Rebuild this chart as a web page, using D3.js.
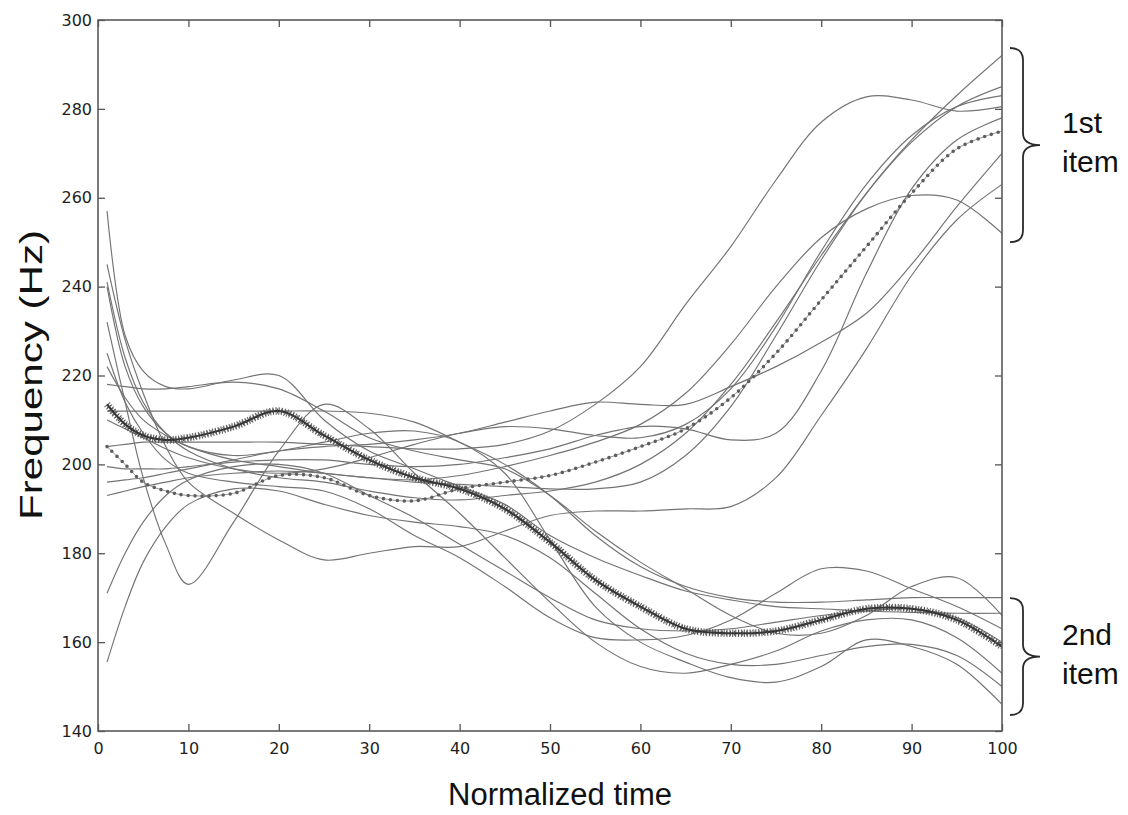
<!DOCTYPE html>
<html><head><meta charset="utf-8">
<script src="https://cdn.jsdelivr.net/npm/d3@7"></script>
<style>body{margin:0;background:#fff}</style>
</head><body>
<svg id="chart" width="1128" height="815"></svg>
<script>
// ---------- data ----------
const xs = [1,3,5,7.5,10,15,20,25,30,35,40,45,50,55,60,65,70,75,80,85,90,95,100];
const xTicks = [0,10,20,30,40,50,60,70,80,90,100];
const yTicks = [140,160,180,200,220,240,260,280,300];

// first item (rising contours)
const rise1 = [204,204.5,205,205,205,205,205,204.5,204,203.5,203.5,204.5,207.5,213.5,222,236,249,264,277,282.7,282,279.5,280.5];
const rise2 = [222,215,210,206.5,204,201,199.5,198,197,196,195.5,195,194.5,194.5,196,202,213,229,246,261,273,283,292];
const rise3 = [241,224,214,207,203,199,197,196,194,192.5,192,193,194,196,200,207,218,232,247,261,272.5,280.5,285];
const rise4 = [199.5,199,199,199,199.5,200.5,201,201,200,199.5,200,201.5,203.5,206.5,208.5,208,205.5,207,221,243,262,273,278];
const rise5 = [196,196.5,197,198,199,201,203,204,204.5,205.5,207,209.5,212,214,213.5,213.5,217.5,222,227.5,234,245,258,270];
const rise6 = [193,194,195,196,197,198,198.5,198,197,196.5,197.5,199.5,202,205,209,216,227,240,251,257.5,260.5,259.5,252];
const rise7 = [245,228,216,204,196,189,183,178.5,180,181.5,181.5,185,188.5,189.5,189.5,190,190.5,197,211,226,242.5,255,263];
const rise8 = [210,208,206,203.5,201.5,199,198,199,201.5,204.5,207,208.5,208,206.5,206,209,217,231,248,263,274,280.5,283];

// second item (falling contours)
const fall1 = [257,229,221,217.5,217,219,220,210,203,199,195,191,184,179,175,171.5,169.5,168,167.5,167,166.7,166.5,166.5];
const fall2 = [232,214,197,182,173,187,203,213.5,208,198,189,179,169,160,154.5,153,155,158,162.5,165,165,161,153];
const fall3 = [240,222,213,207,204,202,203,205,207,207.5,205,198,183,168,160,155.5,152,151,154.5,160.5,159,155,146];
const fall4 = [225,214,207,201,198,196,195,194,190,184,179,172.5,165.5,161,160.5,161.5,165,171,176.5,176,172,168,163];
const fall5 = [218,217.5,217,217,217.5,218.5,217,212,206,203,201,199,193,185,178,172,166,162,162,166,172.5,174.5,166];
const fall6 = [212,212,212,212,212,212,212,212,211.5,209.5,205,200,193,184,177,172.5,170,169,169,169.5,170,170,170];
const fall7 = [171,180,187,193,196.5,199.5,200,198,193,188,182,176,170,165,163,162.5,163,164.5,166,167,167.5,165.5,160];
const fall8 = [155.5,168,178,186,191,194.5,194,191,188.5,187,186,184,179,171,163,157.5,155,155,157,159,159.5,157,150];

// means
const firstItemMean  = [204,200,196,194,193,193.5,197.5,197,193,191.8,194.5,196,197.5,200.5,204,208,215,225,237,249,261,271,275];
const secondItemMean = [213.5,209,206.5,205.5,206,208.5,212,206.5,201,197,194.5,190,182.5,174,168,163,162,162.5,165,167.5,167.5,165,159];

const firstItemCurves  = [rise1,rise2,rise3,rise4,rise5,rise6,rise7,rise8];
const secondItemCurves = [fall1,fall2,fall3,fall4,fall5,fall6,fall7,fall8];

// annotation braces (data range on the y axis) and labels
const braceRanges = [[293.7,250],[169.9,143.6]];
const braceLabels = [["1st","item"],["2nd","item"]];

// ---------- drawing ----------
const svg = d3.select('#chart');
const x = d3.scaleLinear().domain([0,100]).range([98,1002]);
const y = d3.scaleLinear().domain([140,300]).range([731,20]);

svg.append('defs').append('clipPath').attr('id','plotclip')
  .append('rect').attr('x',98).attr('y',20).attr('width',904).attr('height',711);

const line = d3.line()
  .x((d,i)=>x(xs[i]))
  .y(d=>y(d))
  .curve(d3.curveCatmullRom.alpha(0.5));

const plot = svg.append('g').attr('clip-path','url(#plotclip)');

plot.selectAll('path.indiv')
  .data(firstItemCurves.concat(secondItemCurves))
  .join('path')
  .attr('class','indiv')
  .attr('d', line)
  .attr('fill','none')
  .attr('stroke','#737373')
  .attr('stroke-width',1.15);

// first item mean: dotted
plot.append('path').attr('d', line(firstItemMean))
  .attr('fill','none').attr('stroke','#8a8a8a').attr('stroke-width',0.9);
plot.append('path').attr('d', line(firstItemMean))
  .attr('fill','none').attr('stroke','#5e5e5e').attr('stroke-width',3.6)
  .attr('stroke-linecap','round').attr('stroke-dasharray','0 7');

// second item mean: star-marked band
plot.append('path').attr('d', line(secondItemMean))
  .attr('fill','none').attr('stroke','#5a5a5a').attr('stroke-width',7.5)
  .attr('stroke-dasharray','1.2 1.7').attr('opacity',0.9);
plot.append('path').attr('d', line(secondItemMean))
  .attr('fill','none').attr('stroke','#333').attr('stroke-width',2);
plot.append('path').attr('d', line(secondItemMean))
  .attr('fill','none').attr('stroke','#444').attr('stroke-width',5)
  .attr('stroke-dasharray','0.9 3.2').attr('stroke-dashoffset',1.5);

// axes
const tickFont = '"DejaVu Sans", Verdana, sans-serif';
function styleAxis(g){
  g.select('.domain').remove();
  g.selectAll('.tick line').attr('stroke','#555').attr('stroke-width',1.3);
  g.selectAll('.tick text').attr('fill','#1e1e1e').style('font-family',tickFont).style('font-size','16px');
}
svg.append('g').attr('transform','translate(98,0)')
  .call(d3.axisLeft(y).tickValues(yTicks).tickSize(-7).tickPadding(6)).call(styleAxis);
svg.append('g').attr('transform','translate(1002,0)')
  .call(d3.axisRight(y).tickValues(yTicks).tickSize(-7).tickFormat('')).call(styleAxis);
svg.append('g').attr('transform','translate(0,731)')
  .call(d3.axisBottom(x).tickValues(xTicks).tickSize(-7).tickPadding(12)).call(styleAxis);
svg.append('g').attr('transform','translate(0,20)')
  .call(d3.axisTop(x).tickValues(xTicks).tickSize(-7).tickFormat('')).call(styleAxis);

svg.append('rect').attr('x',98).attr('y',20).attr('width',904).attr('height',711)
  .attr('fill','none').attr('stroke','#5a5a5a').attr('stroke-width',1.6);

// axis titles
const titleFont = '"Liberation Sans", Arial, Helvetica, sans-serif';
svg.append('text').attr('transform','translate(42,375) rotate(-90)')
  .attr('text-anchor','middle').style('font-family',titleFont).style('font-size','32px')
  .attr('textLength',290).attr('lengthAdjust','spacingAndGlyphs')
  .attr('fill','#111').text('Frequency (Hz)');
svg.append('text').attr('x',560).attr('y',805)
  .attr('text-anchor','middle').style('font-family',titleFont).style('font-size','31px')
  .attr('fill','#111').text('Normalized time');

// braces
const xl = 1010, xm = 1023, xt = 1040;
braceRanges.forEach((r,i)=>{
  const y0 = y(r[0]), y1 = y(r[1]), ym = (y0+y1)/2;
  const p = d3.path();
  p.moveTo(xl,y0);
  p.quadraticCurveTo(xm,y0,xm,y0+12);
  p.lineTo(xm,ym-12);
  p.quadraticCurveTo(xm,ym,xt,ym);
  p.quadraticCurveTo(xm,ym,xm,ym+12);
  p.lineTo(xm,y1-12);
  p.quadraticCurveTo(xm,y1,xl,y1);
  svg.append('path').attr('d',p.toString()).attr('fill','none')
    .attr('stroke','#2a2a2a').attr('stroke-width',1.8);
  const t = svg.append('text').attr('x',1062).style('font-family',titleFont)
    .style('font-size','30px').attr('fill','#111');
  t.append('tspan').attr('x',1062).attr('y',ym-12).text(braceLabels[i][0]);
  t.append('tspan').attr('x',1062).attr('y',ym+27).text(braceLabels[i][1]);
});
</script>
</body></html>
